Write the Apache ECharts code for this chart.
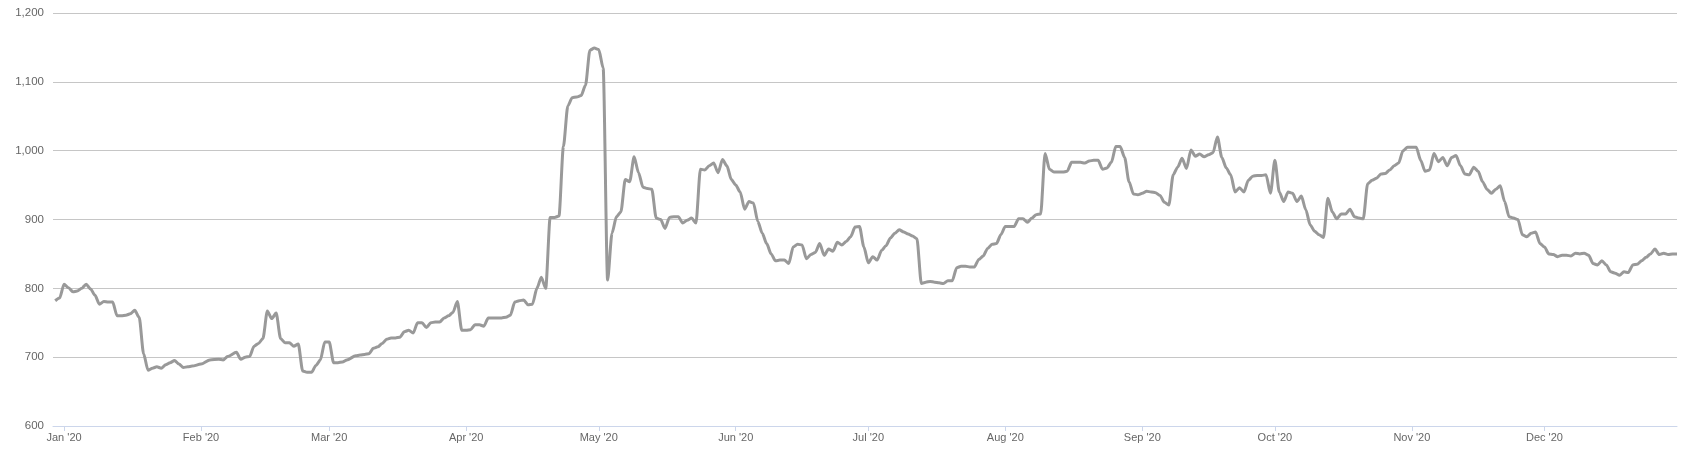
<!DOCTYPE html>
<html>
<head>
<meta charset="utf-8">
<script src="https://cdn.jsdelivr.net/npm/echarts@6/dist/echarts.min.js"></script>
<style>
html,body{margin:0;padding:0;background:#fff;}
#chart{width:1684px;height:452px;}
</style>
</head>
<body>
<div id="chart"></div>
<script>
// ---- data ----
const dates = [
'2019-12-30','2019-12-31',
'2020-01-01','2020-01-02','2020-01-03','2020-01-04','2020-01-05','2020-01-06','2020-01-07','2020-01-08','2020-01-09','2020-01-10',
'2020-01-11','2020-01-12','2020-01-13','2020-01-14','2020-01-15','2020-01-16','2020-01-17','2020-01-18','2020-01-19','2020-01-20',
'2020-01-21','2020-01-22','2020-01-23','2020-01-24','2020-01-25','2020-01-26','2020-01-27','2020-01-28','2020-01-29','2020-01-30',
'2020-02-01','2020-02-03','2020-02-05','2020-02-06','2020-02-07','2020-02-09','2020-02-10','2020-02-11','2020-02-12','2020-02-13',
'2020-02-14','2020-02-15','2020-02-16','2020-02-17','2020-02-18','2020-02-19','2020-02-20','2020-02-21','2020-02-22','2020-02-23',
'2020-02-24','2020-02-25','2020-02-26','2020-02-27','2020-02-28','2020-02-29',
'2020-03-01','2020-03-02','2020-03-03','2020-03-04','2020-03-05','2020-03-07','2020-03-08','2020-03-09','2020-03-10','2020-03-11',
'2020-03-12','2020-03-13','2020-03-14','2020-03-15','2020-03-16','2020-03-17','2020-03-18','2020-03-19','2020-03-20','2020-03-21',
'2020-03-22','2020-03-23','2020-03-24','2020-03-25','2020-03-26','2020-03-27','2020-03-28','2020-03-29','2020-03-30','2020-03-31',
'2020-04-01','2020-04-02','2020-04-03','2020-04-04','2020-04-05','2020-04-06','2020-04-07','2020-04-08','2020-04-09','2020-04-10',
'2020-04-11','2020-04-12','2020-04-13','2020-04-14','2020-04-15','2020-04-16','2020-04-17','2020-04-18','2020-04-19','2020-04-20',
'2020-04-21','2020-04-22','2020-04-23','2020-04-24','2020-04-25','2020-04-26','2020-04-27','2020-04-28','2020-04-29','2020-04-30',
'2020-05-01','2020-05-02','2020-05-03','2020-05-04','2020-05-05','2020-05-06','2020-05-07','2020-05-08','2020-05-09','2020-05-10',
'2020-05-11','2020-05-12','2020-05-13','2020-05-14','2020-05-15','2020-05-16','2020-05-17','2020-05-18','2020-05-19','2020-05-20',
'2020-05-21','2020-05-22','2020-05-23','2020-05-24','2020-05-25','2020-05-26','2020-05-27','2020-05-28','2020-05-29','2020-05-30',
'2020-05-31',
'2020-06-01','2020-06-02','2020-06-03','2020-06-04','2020-06-05','2020-06-06','2020-06-07','2020-06-08','2020-06-09','2020-06-10',
'2020-06-11','2020-06-12','2020-06-13','2020-06-14','2020-06-15','2020-06-16','2020-06-17','2020-06-18','2020-06-19','2020-06-20',
'2020-06-21','2020-06-22','2020-06-23','2020-06-24','2020-06-25','2020-06-26','2020-06-27','2020-06-28','2020-06-29','2020-06-30',
'2020-07-01','2020-07-02','2020-07-03','2020-07-04','2020-07-05','2020-07-06','2020-07-07','2020-07-08','2020-07-09','2020-07-10',
'2020-07-11','2020-07-12','2020-07-13','2020-07-14','2020-07-15','2020-07-16','2020-07-17','2020-07-18','2020-07-19','2020-07-20',
'2020-07-21','2020-07-22','2020-07-23','2020-07-24','2020-07-25','2020-07-26','2020-07-27','2020-07-28','2020-07-29','2020-07-30',
'2020-07-31',
'2020-08-01','2020-08-02','2020-08-03','2020-08-04','2020-08-05','2020-08-06','2020-08-07','2020-08-08','2020-08-09','2020-08-10',
'2020-08-11','2020-08-12','2020-08-13','2020-08-14','2020-08-15','2020-08-16','2020-08-17','2020-08-18','2020-08-19','2020-08-20',
'2020-08-21','2020-08-22','2020-08-23','2020-08-24','2020-08-25','2020-08-26','2020-08-27','2020-08-28','2020-08-29','2020-08-30',
'2020-08-31',
'2020-09-01','2020-09-02','2020-09-03','2020-09-04','2020-09-05','2020-09-06','2020-09-07','2020-09-08','2020-09-09','2020-09-10',
'2020-09-11','2020-09-12','2020-09-13','2020-09-14','2020-09-15','2020-09-16','2020-09-17','2020-09-18','2020-09-19','2020-09-20',
'2020-09-21','2020-09-22','2020-09-23','2020-09-24','2020-09-25','2020-09-26','2020-09-27','2020-09-28','2020-09-29','2020-09-30',
'2020-10-01','2020-10-02','2020-10-03','2020-10-04','2020-10-05','2020-10-06','2020-10-07','2020-10-08','2020-10-09','2020-10-10',
'2020-10-11','2020-10-12','2020-10-13','2020-10-14','2020-10-15','2020-10-16','2020-10-17','2020-10-18','2020-10-19','2020-10-20',
'2020-10-21','2020-10-22','2020-10-23','2020-10-24','2020-10-25','2020-10-26','2020-10-27','2020-10-28','2020-10-29','2020-10-30',
'2020-10-31',
'2020-11-01','2020-11-02','2020-11-03','2020-11-04','2020-11-05','2020-11-06','2020-11-07','2020-11-08','2020-11-09','2020-11-10',
'2020-11-11','2020-11-12','2020-11-13','2020-11-14','2020-11-15','2020-11-16','2020-11-17','2020-11-18','2020-11-19','2020-11-20',
'2020-11-21','2020-11-22','2020-11-23','2020-11-24','2020-11-25','2020-11-26','2020-11-27','2020-11-28','2020-11-29','2020-11-30',
'2020-12-01','2020-12-02','2020-12-03','2020-12-04','2020-12-05','2020-12-06','2020-12-07','2020-12-08','2020-12-09','2020-12-10',
'2020-12-11','2020-12-12','2020-12-13','2020-12-14','2020-12-15','2020-12-16','2020-12-17','2020-12-18','2020-12-19','2020-12-20',
'2020-12-21','2020-12-22','2020-12-23','2020-12-24','2020-12-25','2020-12-26','2020-12-27','2020-12-28','2020-12-29','2020-12-30',
'2020-12-31'
];
const values = [
782,786,
806,801,795,796,800,806,799,790,777,781,
780,780,760,760,761,763,768,758,705,681,
684,686,684,689,692,695,690,685,686,687,
690,696,697,696,701,707,697,700,701,716,
720,727,767,756,764,727,721,721,716,719,
680,678,678,688,696,722,
722,692,692,693,696,702,703,704,705,713,
715,720,726,728,728,729,737,739,735,750,
750,743,750,751,751,757,760,765,781,739,
739,740,747,747,745,757,757,757,757,758,
761,780,782,783,776,777,800,816,800,903,
903,905,1006,1065,1077,1078,1080,1095,1146,1149,
1147,1120,812,880,904,911,958,955,991,968,
947,945,944,902,900,887,903,904,904,895,
899,902,895,973,972,978,982,968,987,978,
958,
950,940,915,926,924,897,880,865,850,840,
841,841,836,860,864,863,843,849,852,865,
848,857,854,867,863,868,875,889,890,860,
837,846,841,855,862,873,880,885,882,879,
876,872,807,809,810,809,808,807,811,811,
830,832,832,831,831,842,847,858,864,865,
878,
890,890,890,901,901,896,902,907,908,996,
973,969,969,969,970,983,983,983,982,985,
986,986,973,975,983,1006,1006,990,955,937,
936,
938,941,940,939,935,925,921,965,976,989,
974,1001,992,995,991,994,997,1020,990,975,
965,940,946,940,957,963,964,964,965,938,
986,940,926,940,938,926,934,914,892,883,
878,874,931,911,901,908,908,915,904,902,
901,952,957,960,966,967,972,978,982,1000,
1005,
1005,1005,986,970,972,996,984,990,978,990,
993,978,966,965,976,970,955,944,938,944,
949,926,904,902,900,878,875,880,882,865,
860,850,849,846,848,848,847,851,850,851,
848,836,834,840,834,824,822,819,824,823,
834,835,840,845,850,857,849,851,849,850,
850
];
const monthNames = ['Jan','Feb','Mar','Apr','May','Jun','Jul','Aug','Sep','Oct','Nov','Dec'];
const yTicks = [600, 700, 800, 900, 1000, 1100, 1200];
const xMin = '2019-12-29 12:00:00';
const xMax = '2020-12-31';

const seriesData = dates.map((d, i) => [d, values[i]]);
const DAY = 24 * 3600 * 1000;

const chart = echarts.init(document.getElementById('chart'), null, {renderer: 'canvas'});
chart.setOption({
  animation: false,
  backgroundColor: '#ffffff',
  grid: {left: 53, right: 7, top: 13, bottom: 26, containLabel: false},
  xAxis: {
    type: 'time',
    min: xMin,
    max: xMax,
    splitNumber: 12,
    minInterval: 28 * DAY,
    maxInterval: 31 * DAY,
    axisLine: {show: true, lineStyle: {color: '#ccd6eb', width: 1}},
    axisTick: {show: true, length: 5, lineStyle: {color: '#ccd6eb', width: 1}},
    splitLine: {show: false},
    axisLabel: {
      color: '#666666',
      fontSize: 11,
      fontFamily: 'Liberation Sans, Arial, sans-serif',
      margin: 6,
      hideOverlap: false,
      formatter: function (val) {
        const d = new Date(val);
        return monthNames[d.getMonth()] + " '" + String(d.getFullYear()).slice(2);
      }
    }
  },
  yAxis: {
    type: 'value',
    min: yTicks[0],
    max: yTicks[yTicks.length - 1],
    interval: 100,
    axisLine: {show: false},
    axisTick: {show: false},
    splitLine: {show: true, lineStyle: {color: '#c6c6c6', width: 1}},
    axisLabel: {
      color: '#666666',
      fontSize: 11.5,
      fontFamily: 'Liberation Sans, Arial, sans-serif',
      margin: 9,
      formatter: function (v) { return v.toLocaleString('en-US'); }
    }
  },
  series: [{
    type: 'line',
    data: seriesData,
    showSymbol: false,
    symbol: 'none',
    smooth: 0.25,
    smoothMonotone: 'x',
    lineStyle: {color: '#999999', width: 3},
    z: 3
  }]
});
</script>
</body>
</html>
